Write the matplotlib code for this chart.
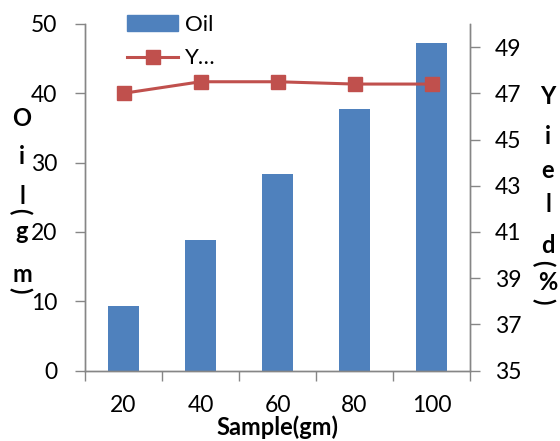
import matplotlib.pyplot as plt
from matplotlib.patches import Patch
from matplotlib.lines import Line2D

# data
samples = ['20', '40', '60', '80', '100']
oil = [9.3, 18.9, 28.4, 37.8, 47.2]
yield_pct = [47.0, 47.5, 47.5, 47.4, 47.4]

left_label = 'Oil(gm)'
right_label = 'Yield(%)'

BLUE = '#4F81BD'
RED = '#C0504D'
GREY = '#868686'
W, H = 560, 441

plt.rcParams['font.family'] = ['Lato', 'DejaVu Sans']

fig = plt.figure(figsize=(W / 100, H / 100), dpi=100)
ax = fig.add_axes([85 / W, 1 - 370.5 / H, (470 - 85) / W, (370.5 - 24) / H])
ax2 = ax.twinx()

x = list(range(len(samples)))
ax.bar(x, oil, width=0.4, color=BLUE, zorder=2)
ax2.plot(x, yield_pct, color=RED, lw=2.2, marker='s', ms=9.5, zorder=3)

ax.set_xlim(-0.5, len(samples) - 0.5)
ax.set_ylim(0, 50)
ax2.set_ylim(35, 50)
ax.set_yticks(range(0, 51, 10))
ax2.set_yticks(range(35, 50, 2))
ax.set_xticks(x)
ax.set_xticklabels(samples)
ax.set_xticks([i - 0.5 for i in range(len(samples) + 1)], minor=True)

for a in (ax, ax2):
    a.spines['top'].set_visible(False)
    for s in ('left', 'right', 'bottom'):
        a.spines[s].set_color(GREY)
        a.spines[s].set_linewidth(1.0)
    a.tick_params(axis='y', length=7, width=1, color=GREY, labelsize=16.5)
ax.tick_params(axis='y', pad=13)
ax2.tick_params(axis='y', pad=11)
ax.tick_params(axis='x', which='major', length=0, labelsize=16.5, pad=18)
ax.tick_params(axis='x', which='minor', length=7, width=1, color=GREY)

ax.set_xlabel('Sample(gm)', fontsize=17, fontweight='bold')
ax.xaxis.set_label_coords(0.5, (370.5 - 427) / 346.5)
ax.xaxis.label.set_va('center')

# stacked axis titles, brackets turned on their side as in the original
left_pos = [(22, 119), (22, 156), (22, 196), (20, 211), (22, 232), (22, 274), (20, 290)]
right_pos = [(548, 97), (548, 136), (548, 171), (548, 205), (548, 246), (543, 263), (548, 282), (543, 301)]
for label, pos in ((left_label, left_pos), (right_label, right_pos)):
    for ch, (px, py) in zip(label, pos):
        rot = -90 if ch in '()' else 0
        fig.text(px / W, 1 - py / H, ch, fontsize=17, fontweight='bold',
                 ha='center', va='center', rotation=rot)

handles = [Patch(color=BLUE),
           Line2D([], [], color=RED, lw=2.2, marker='s', ms=9.5)]
fig.legend(handles, ['Oil', 'Y…'], loc='upper left',
           bbox_to_anchor=(127 / W, 1 - 15 / H), frameon=False,
           fontsize=16, handlelength=2.3, handleheight=0.7,
           handletextpad=0.3, labelspacing=0.6, borderpad=0, borderaxespad=0)

fig.savefig('out.png', dpi=100)
